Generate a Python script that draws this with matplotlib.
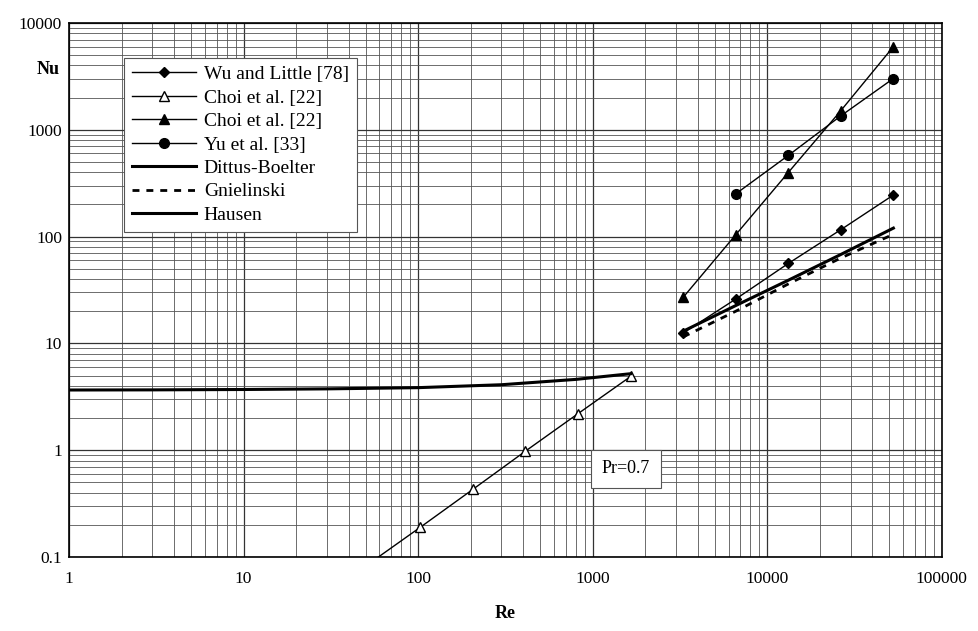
import matplotlib
matplotlib.use("Agg")
import matplotlib.pyplot as plt

re_turb = [3300, 6600, 13200, 26400, 52800]
wu = [12.5, 26, 56, 116, 245]
re_choi_f = [3300, 6600, 13200, 26400, 52800]
choi_f = [27, 104, 398, 1510, 6000]
re_yu = [6600, 13200, 26400, 52800]
yu = [251, 575, 1350, 3020]
re_choi_o = [51.5, 103, 206, 412, 825, 1650]
choi_o = [0.085, 0.19, 0.43, 0.98, 2.2, 4.9]
dittus = [13, 22.6, 39, 68, 120]
gniel = [11.5, 20, 36, 63, 105]
re_hausen = [1, 3, 10, 30, 100, 300, 800, 1650]
hausen = [3.66, 3.67, 3.7, 3.75, 3.85, 4.1, 4.6, 5.2]

plt.rcParams["font.family"] = "Liberation Serif"
fig = plt.figure(figsize=(9.79, 6.31), dpi=100)
ax = fig.add_axes([0.0705, 0.1173, 0.8915, 0.8463])
ax.set_xscale("log"); ax.set_yscale("log")
ax.set_xlim(1, 100000); ax.set_ylim(0.1, 10000)
ax.grid(True, which="major", color="#333333", lw=0.9)
ax.grid(True, which="minor", color="#555555", lw=0.6)
ax.set_axisbelow(True)

ax.plot(re_turb, wu, "k-", marker="D", ms=5, lw=1, label="Wu and Little [78]")
ax.plot(re_choi_o, choi_o, "k-", marker="^", mfc="white", ms=7, lw=1, markevery=[1, 2, 3, 4, 5], label="Choi et al. [22]")
ax.plot(re_choi_f, choi_f, "k-", marker="^", ms=7, lw=1, label="Choi et al. [22]")
ax.plot(re_yu, yu, "k-", marker="o", ms=7, lw=1, label="Yu et al. [33]")
ax.plot(re_turb, dittus, "k-", lw=2.2, label="Dittus-Boelter")
ax.plot(re_turb, gniel, color="k", ls=(0, (2.5, 2.5)), lw=2, label="Gnielinski")
ax.plot(re_hausen, hausen, "k-", lw=2.2, label="Hausen")

ax.set_xticks([1, 10, 100, 1000, 10000, 100000])
ax.set_xticklabels(["1", "10", "100", "1000", "10000", "100000"])
ax.set_yticks([0.1, 1, 10, 100, 1000, 10000])
ax.set_yticklabels(["0.1", "1", "10", "100", "1000", "10000"])
ax.tick_params(which="both", length=0, labelsize=12.5)
ax.tick_params(axis="x", pad=10)
ax.tick_params(axis="y", pad=5)
for s in ax.spines.values():
    s.set_linewidth(1.2)

fig.text(48/979, 1-70/631, "Nu", fontsize=13, fontweight="bold", ha="center", va="center")
fig.text(505/979, 1-613/631, "Re", fontsize=13, fontweight="bold", ha="center", va="center")
ax.text(0.638, 0.165, "Pr=0.7", transform=ax.transAxes, fontsize=13, ha="center", va="center",
        bbox=dict(boxstyle="square,pad=0.6", fc="white", ec="#555555", lw=0.8))

leg = ax.legend(loc="upper left", bbox_to_anchor=(0.052, 0.953), fontsize=14, frameon=True,
                fancybox=False, edgecolor="#555555", framealpha=1, borderpad=0.4,
                labelspacing=0.3, handlelength=3.3, handletextpad=0.4)
leg.get_frame().set_linewidth(0.8)

fig.savefig("out.png", dpi=100)
